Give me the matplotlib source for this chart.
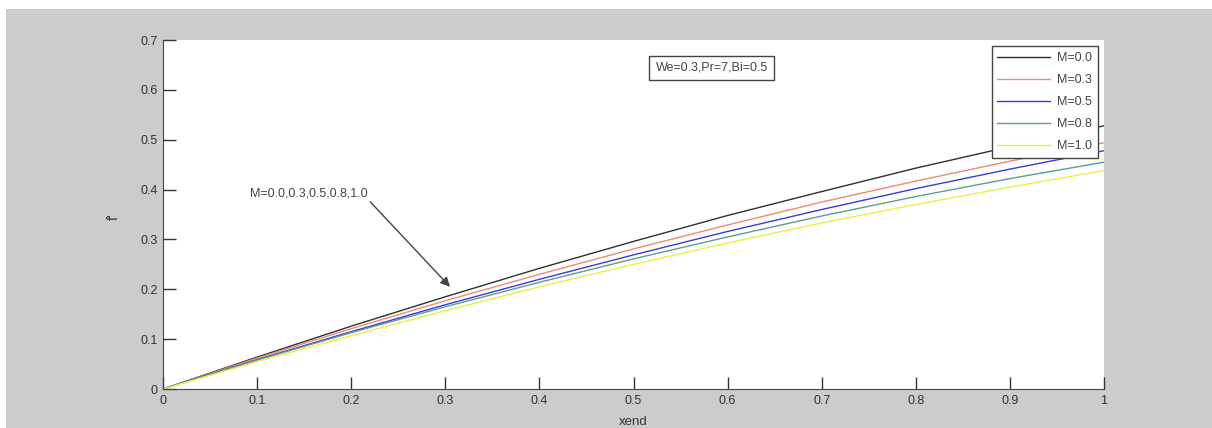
import matplotlib
matplotlib.use('Agg')
import matplotlib.pyplot as plt
from matplotlib.patches import Rectangle

plt.rcParams['font.family'] = ['Liberation Sans', 'DejaVu Sans']

# datos
xend = [0.0, 0.1, 0.2, 0.3, 0.4, 0.5, 0.6, 0.7, 0.8, 0.9, 1.0]
f_M00 = [0.0, 0.064, 0.126, 0.185, 0.242, 0.296, 0.348, 0.396, 0.443, 0.486, 0.528]
f_M03 = [0.0, 0.062, 0.121, 0.177, 0.230, 0.281, 0.329, 0.375, 0.417, 0.457, 0.494]
f_M05 = [0.0, 0.059, 0.115, 0.169, 0.220, 0.269, 0.316, 0.360, 0.402, 0.441, 0.478]
f_M08 = [0.0, 0.058, 0.113, 0.165, 0.214, 0.261, 0.305, 0.347, 0.386, 0.422, 0.455]
f_M10 = [0.0, 0.055, 0.107, 0.157, 0.205, 0.250, 0.293, 0.333, 0.370, 0.405, 0.438]
etiquetas = ['M=0.0', 'M=0.3', 'M=0.5', 'M=0.8', 'M=1.0']
colores = ['#303030', '#ee8a78', '#3a3ae0', '#5c9e92', '#eeee40']

fig = plt.figure(figsize=(12.12, 4.28), dpi=100)
fig.patch.set_facecolor('white')
# fondo gris tipo matlab
fig.patches.append(Rectangle((6 / 1212, 0), 1, (428 - 9) / 428,
                             transform=fig.transFigure, facecolor='#cccccc',
                             edgecolor='none', zorder=-10))

ax = fig.add_axes([163 / 1212, 39 / 428, 941 / 1212, 349 / 428])
ax.set_facecolor('white')

series = [f_M00, f_M03, f_M05, f_M08, f_M10]
for ys, lab, c in zip(series, etiquetas, colores):
    ax.plot(xend, ys, color=c, lw=1.0, label=lab)

ax.set_xlim(0, 1)
ax.set_ylim(0, 0.7)
ax.set_xticks([0, 0.1, 0.2, 0.3, 0.4, 0.5, 0.6, 0.7, 0.8, 0.9, 1])
ax.set_xticklabels(['0', '0.1', '0.2', '0.3', '0.4', '0.5', '0.6', '0.7', '0.8', '0.9', '1'])
ax.set_yticks([0, 0.1, 0.2, 0.3, 0.4, 0.5, 0.6, 0.7])
ax.set_yticklabels(['0', '0.1', '0.2', '0.3', '0.4', '0.5', '0.6', '0.7'])
ax.tick_params(direction='in', length=9, width=1, labelsize=9, colors='#333333',
               labelcolor='#333333', pad=4)
ax.spines['top'].set_visible(False)
ax.spines['right'].set_visible(False)
ax.spines['left'].set_color('#444444')
ax.spines['bottom'].set_color('#444444')

ax.set_xlabel('xend', fontsize=9.5, color='#333333')
ax.xaxis.set_label_coords(0.5, -0.076)
ax.set_ylabel("f'", fontsize=10, color='#333333')
ax.yaxis.set_label_coords(-0.045, 0.493)

ax.text(0.583, 0.644, 'We=0.3,Pr=7,Bi=0.5', fontsize=9, color='#444444',
        ha='center', va='center',
        bbox=dict(boxstyle='square,pad=0.5', facecolor='white', edgecolor='#444444', lw=1))

ax.annotate('M=0.0,0.3,0.5,0.8,1.0', xy=(0.305, 0.205), xytext=(0.0925, 0.393),
            fontsize=9, color='#444444', ha='left', va='center',
            arrowprops=dict(arrowstyle='-|>', color='#444444', lw=1,
                            shrinkA=0, shrinkB=0, mutation_scale=14,
                            relpos=(1.0, 0.0)))

leg = ax.legend(loc='upper right', fontsize=9, handlelength=4.2, labelspacing=0.8,
                borderaxespad=0.5, fancybox=False, framealpha=1, handletextpad=0.6,
                borderpad=0.45)
leg.get_frame().set_edgecolor('#444444')
leg.get_frame().set_linewidth(1)
for t in leg.get_texts():
    t.set_color('#444444')

fig.savefig('out.png', dpi=100, facecolor=fig.get_facecolor())
